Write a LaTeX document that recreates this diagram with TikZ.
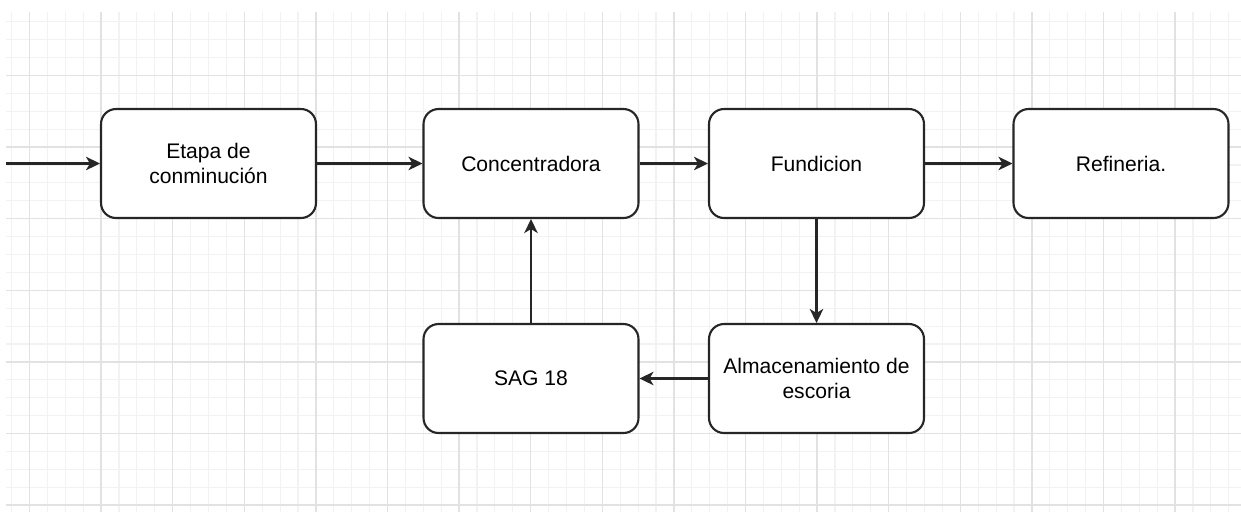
\documentclass[tikz,border=0pt]{standalone}
\usepackage{fontspec}
\setmainfont{Liberation Sans}
\usetikzlibrary{arrows.meta}
\definecolor{gridminor}{HTML}{F2F2F2}
\definecolor{gridmajor}{HTML}{E2E2E2}
\definecolor{ink}{HTML}{262626}
\tikzset{
  stage/.style={draw=ink, line width=1.2pt, fill=white, rounded corners=0.3cm,
    minimum width=4.3cm, minimum height=2.18cm, align=center,
    font=\fontsize{12}{14.2}\selectfont, inner sep=2pt},
  flow/.style={draw=ink, line width=1.3pt,
    -{Stealth[length=0.28cm, width=0.27cm, inset=0.08cm]}},
  minorline/.style={draw=gridminor, line width=0.6pt},
  majorline/.style={draw=gridmajor, line width=0.8pt}
}
\begin{document}
\begin{tikzpicture}[x=0.02cm, y=-0.02cm]
  \useasboundingbox (0,0) rectangle (1241,512);
  % background grid
  \begin{scope}
    \clip (6,12) rectangle (1241,512);
    \foreach \i in {0,...,69} \draw[minorline] ({11.6+\i*17.9},12) -- ++(0,500);
    \foreach \i in {0,...,28} \draw[minorline] (6,{21.8+\i*17.9}) -- ++(1235,0);
    \foreach \i in {0,...,17} \draw[majorline] ({29.5+\i*71.6},12) -- ++(0,500);
    \foreach \i in {0,...,6} \draw[majorline] (6,{75.5+\i*71.6}) -- ++(1235,0);
  \end{scope}
  % process stages
  \node[stage] (etapa) at (208.5,163.5) {Etapa de\\conminución};
  \node[stage] (conc)  at (531,163.5)   {Concentradora};
  \node[stage] (fund)  at (816.5,163.5) {Fundicion};
  \node[stage] (refi)  at (1121,163.5)  {Refineria.};
  \node[stage] (alma)  at (816.5,378.5) {Almacenamiento de\\escoria};
  \node[stage] (sag)   at (531,378.5)   {SAG 18};
  \coordinate (feed) at (6,163.5);
  % material flow
  \draw[flow] (feed) -- (etapa);
  \draw[flow] (etapa) -- (conc);
  \draw[flow] (conc) -- (fund);
  \draw[flow] (fund) -- (refi);
  \draw[flow] (fund) -- (alma);
  \draw[flow] (alma) -- (sag);
  \draw[flow] (sag) -- (conc);
\end{tikzpicture}
\end{document}
